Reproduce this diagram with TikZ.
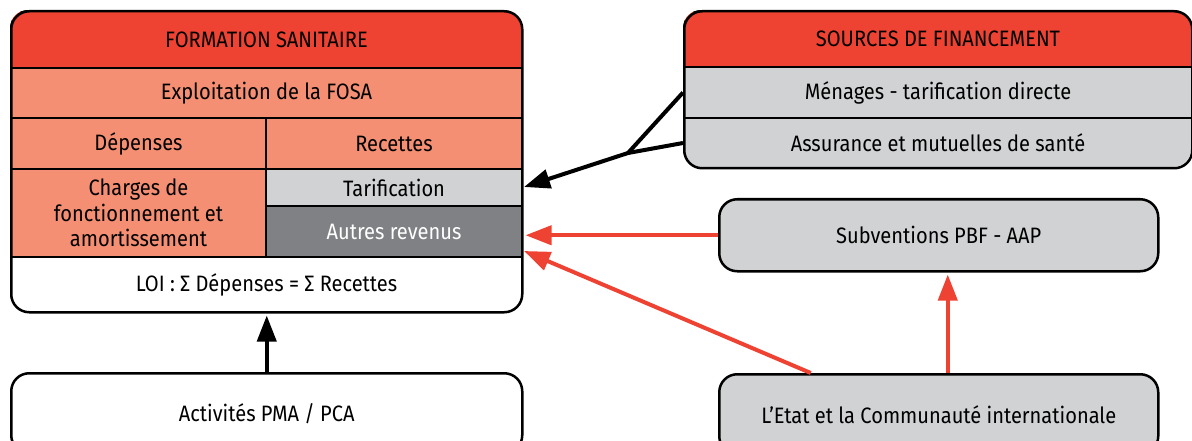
\documentclass[tikz,border=0pt]{standalone}
\usepackage{fontspec}
\setmainfont{Fira Sans}[FakeStretch=0.9]
\usetikzlibrary{arrows.meta}
\definecolor{hdrred}{HTML}{EE4232}
\definecolor{salmon}{HTML}{F58F73}
\definecolor{lgray}{HTML}{D1D2D4}
\definecolor{dgray}{HTML}{808184}
\begin{document}
\begin{tikzpicture}[x=1pt,y=-1pt,
  txt/.style={font=\fontsize{22.3}{25.5}\selectfont, align=center},
  cell/.style={txt, draw=black, line width=2pt, inner sep=0pt, anchor=north west},
  frame/.style={draw=black, line width=2.5pt, rounded corners=18pt, inner sep=0pt, anchor=north west},
  box/.style={frame, txt},
  tip/.style={-{Triangle[length=26pt,width=19pt]}},
  blackarrow/.style={tip, draw=black, line width=4pt},
  redarrow/.style={tip, draw=hdrred, line width=4pt},
]
\clip (0,0) rectangle (1192,441);

% ---- Formation sanitaire ----
\begin{scope}
  \clip[rounded corners=18pt] (10,10) rectangle (521,311);
  \node[cell, fill=hdrred, minimum width=511pt, minimum height=57pt] (fs) at (10,10) {FORMATION SANITAIRE};
  \node[cell, fill=salmon, minimum width=511pt, minimum height=50pt] (expl) at (10,67) {Exploitation de la FOSA};
  \node[cell, fill=salmon, minimum width=255pt, minimum height=51pt] (dep) at (10,117) {Dépenses};
  \node[cell, fill=salmon, minimum width=256pt, minimum height=51pt] (rec) at (265,117) {Recettes};
  \node[cell, fill=salmon, minimum width=255pt, minimum height=88pt] (chg) at (10,168) {Charges de\\fonctionnement et\\amortissement};
  \node[cell, fill=lgray, minimum width=256pt, minimum height=37pt] (tarif) at (265,168) {Tarification};
  \node[cell, fill=dgray, text=white, minimum width=256pt, minimum height=51pt] (autres) at (265,205) {Autres revenus};
  \node[cell, fill=white, minimum width=511pt, minimum height=55pt] (loi) at (10,256) {LOI : Σ Dépenses = Σ Recettes};
\end{scope}
\node[frame, minimum width=511pt, minimum height=301pt] (fsbox) at (10,10) {};

% ---- Sources de financement ----
\begin{scope}
  \clip[rounded corners=18pt] (683,10) rectangle (1191,167);
  \node[cell, fill=hdrred, minimum width=508pt, minimum height=56pt] (src) at (683,10) {SOURCES DE FINANCEMENT};
  \node[cell, fill=lgray, minimum width=508pt, minimum height=51pt] (men) at (683,66) {Ménages - tarification directe};
  \node[cell, fill=lgray, minimum width=508pt, minimum height=50pt] (ass) at (683,117) {Assurance et mutuelles de santé};
\end{scope}
\node[frame, minimum width=508pt, minimum height=157pt] (srcbox) at (683,10) {};

% ---- Other boxes ----
\node[box, fill=lgray, minimum width=439pt, minimum height=72pt] (sub) at (718,198) {Subventions PBF - AAP};
\node[box, fill=lgray, minimum width=439pt, minimum height=80pt] (etat) at (718,373) {L’Etat et la Communauté internationale};
\node[box, fill=white, minimum width=511pt, minimum height=80pt] (act) at (10,372) {Activités PMA / PCA};

% ---- Connectors ----
\coordinate (j) at (628,153);
\coordinate (t1) at (524,187);
\coordinate (t2) at (524,251);
\draw[line width=4pt] (men.west) -- (j);
\draw[blackarrow] (ass.west) -- (j) -- (t1);
\draw[redarrow, shorten >=2pt] (sub.west) -- (sub.west -| fsbox.east);
\draw[redarrow] ([xshift=-128pt]etat.north) -- (t2);
\draw[redarrow, shorten >=2pt] ([xshift=9pt]etat.north) -- ([xshift=9pt]sub.south);
\draw[blackarrow, shorten >=2pt] (act.north) -- (fsbox.south);
\end{tikzpicture}
\end{document}
